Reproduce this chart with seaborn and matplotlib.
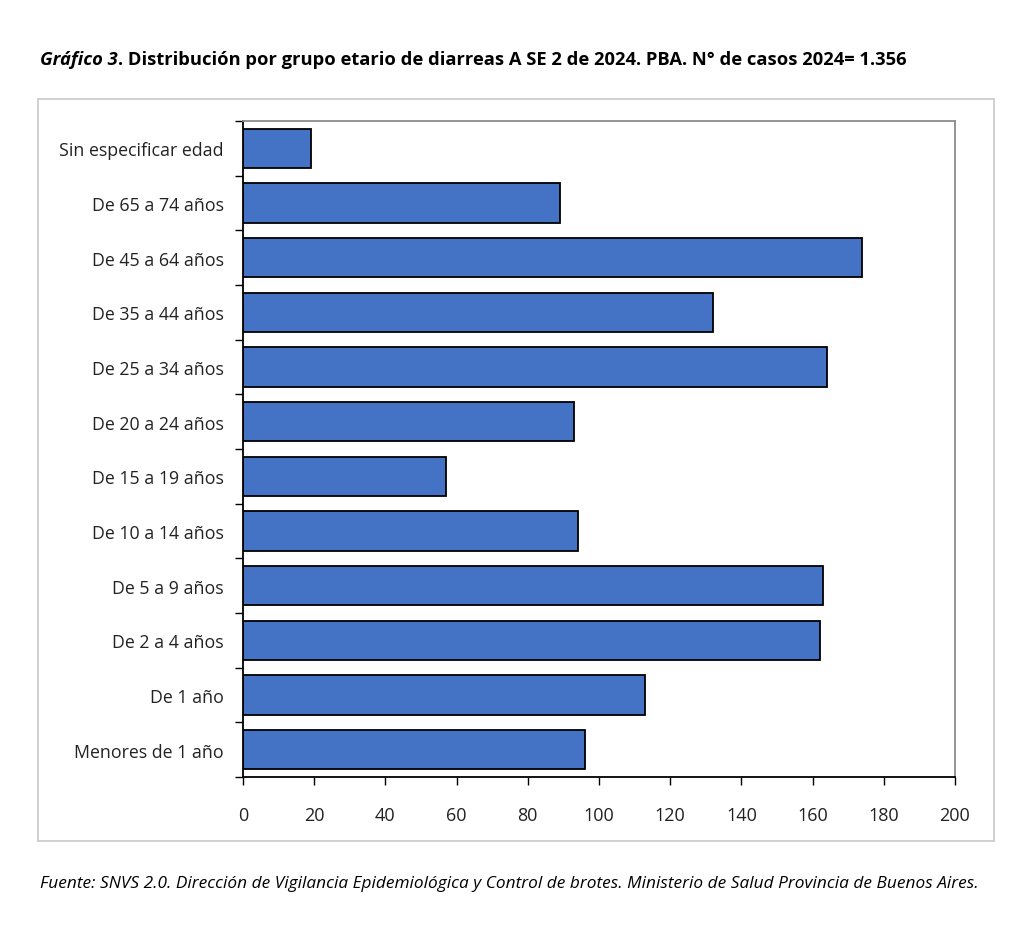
import matplotlib
matplotlib.use("Agg")
import matplotlib.pyplot as plt
import seaborn as sns
import pandas as pd
from matplotlib.patches import Rectangle
from matplotlib.ticker import FixedLocator

categories = ["Sin especificar edad", "De 65 a 74 años", "De 45 a 64 años", "De 35 a 44 años",
              "De 25 a 34 años", "De 20 a 24 años", "De 15 a 19 años", "De 10 a 14 años",
              "De 5 a 9 años", "De 2 a 4 años", "De 1 año", "Menores de 1 año"]
casos = [19, 89, 174, 132, 164, 93, 57, 94, 163, 162, 113, 96]
x_ticks = [0, 20, 40, 60, 80, 100, 120, 140, 160, 180, 200]

sns.set_theme(style="white")
plt.rcParams['font.family'] = ['Open Sans', 'DejaVu Sans']

df = pd.DataFrame({"grupo": categories, "casos": casos})

W, H = 1024, 937
fig = plt.figure(figsize=(W / 100, H / 100), dpi=100)
fig.patch.set_facecolor("white")

# outer chart border
fig.add_artist(Rectangle((38 / W, 1 - 842 / H), (994 - 38) / W, (842 - 100) / H,
                         transform=fig.transFigure, fill=False, edgecolor="#c8c8c8", lw=1.2))

ax = fig.add_axes([243 / W, 1 - 778 / H, (955 - 243) / W, (778 - 122) / H])
sns.barplot(data=df, y="grupo", x="casos", orient="h", color="#4472C4", saturation=1,
            edgecolor="black", linewidth=1.3, width=0.72, ax=ax)

ax.set_xlim(0, 200)
ax.set_xticks(x_ticks)
ax.set_xticklabels([str(t) for t in x_ticks], fontsize=13, color="#222222")
ax.set_ylabel("")
ax.set_xlabel("")
ax.set_yticks(range(len(categories)))
ax.set_yticklabels(categories, fontsize=12.8, color="#222222")
ax.yaxis.set_minor_locator(FixedLocator([i - 0.5 for i in range(len(categories) + 1)]))
ax.tick_params(axis="y", which="major", length=0, pad=14)
ax.tick_params(axis="y", which="minor", length=6, width=1, color="black", left=True)
ax.tick_params(axis="x", which="major", length=6, width=1, color="black", bottom=True, pad=15)

for s in ["left", "bottom"]:
    ax.spines[s].set_color("black")
    ax.spines[s].set_linewidth(1.3)
for s in ["top", "right"]:
    ax.spines[s].set_visible(True)
    ax.spines[s].set_color("#8c8c8c")
    ax.spines[s].set_linewidth(1.3)

# title: italic bold part + bold part
t1 = fig.text(40 / W, 1 - 60 / H, "Gráfico 3", fontsize=13.2, fontweight="bold",
              fontstyle="italic", ha="left", va="center", color="black")
fig.canvas.draw()
bb = t1.get_window_extent()
fig.text(bb.x1 / W, 1 - 60 / H,
         ". Distribución por grupo etario de diarreas A SE 2 de 2024. PBA. N° de casos 2024= 1.356",
         fontsize=13.2, fontweight="bold", ha="left", va="center", color="black")

fig.text(40 / W, 1 - 884 / H,
         "Fuente: SNVS 2.0. Dirección de Vigilancia Epidemiológica y Control de brotes. Ministerio de Salud Provincia de Buenos Aires.",
         fontsize=12.4, fontstyle="italic", ha="left", va="center", color="black")

fig.savefig("out.png", dpi=100)
